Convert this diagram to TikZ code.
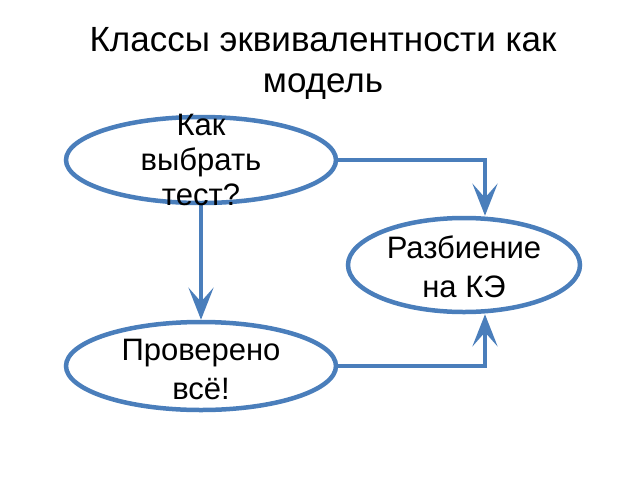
\documentclass[tikz,border=0pt]{standalone}
\usepackage{fontspec}
\setmainfont{Liberation Sans}
\usetikzlibrary{arrows.meta,shapes.geometric}
\definecolor{eblue}{HTML}{4A7EBB}
\begin{document}
\begin{tikzpicture}[x=1pt,y=-1pt,
  titletext/.style={align=center,font=\fontsize{35}{41}\selectfont,inner sep=0},
  oval/.style={ellipse,draw=eblue,line width=4.5pt,fill=white,inner sep=0},
  lbl/.style={align=center,inner sep=0},
  arr/.style={draw=eblue,line width=4.5pt,-{Stealth[length=32pt,width=25pt,inset=14pt]}}]
\useasboundingbox (0,0) rectangle (640,480);
\node[titletext] (t) at (323,63) {Классы эквивалентности как\\модель};
\node[oval,minimum width=270,minimum height=86] (a) at (201,160) {};
\node[oval,minimum width=232,minimum height=94] (b) at (464,265) {};
\node[oval,minimum width=270,minimum height=88] (c) at (201,366) {};
\draw[arr] (a.east) -| ([xshift=21pt]b.north);
\draw[arr] (a.south) -- (c.north);
\draw[arr] (c.east) -| ([xshift=21pt]b.south);
\node[lbl,font=\fontsize{31}{35}\selectfont] (at) at (a.center) {Как\\выбрать\\тест?};
\node[lbl,font=\fontsize{31}{39}\selectfont] (bt) at (464,267) {Разбиение\\на КЭ};
\node[lbl,font=\fontsize{31}{39}\selectfont] (ct) at (201,369) {Проверено\\всё!};
\end{tikzpicture}
\end{document}
